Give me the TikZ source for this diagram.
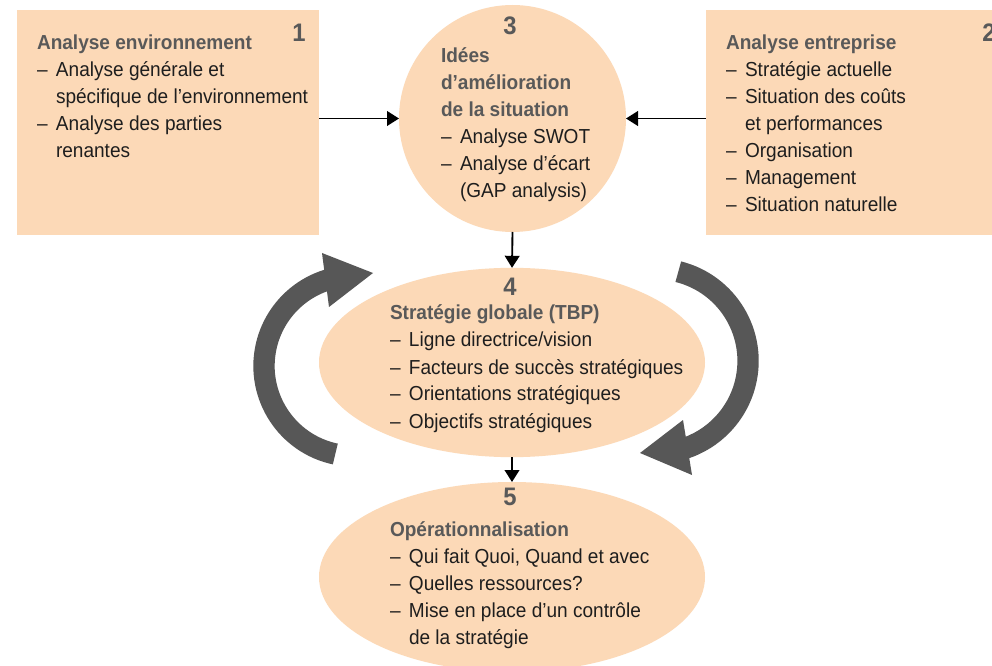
\documentclass[tikz,border=0pt]{standalone}
\usepackage{fontspec}
\setmainfont[FakeStretch=0.94]{Liberation Sans}
\usetikzlibrary{shapes.geometric,arrows.meta}
\definecolor{peach}{HTML}{FCD9B7}
\definecolor{titlegray}{HTML}{595959}
\definecolor{arcgray}{HTML}{575757}
\definecolor{ink}{HTML}{1E1E1E}
\newcommand\dsh{\makebox[14.25pt][l]{–}}
\newcommand\cnt{\hspace*{14.25pt}}
\newcommand\tblock[4]{%
  \foreach \myitem [count=\k from 0] in {#4}{%
    \node[txt] (#1-\k) at (#2,{-(#3)-27*\k}) {\myitem};}}
\begin{document}
\begin{tikzpicture}[x=0.75pt,y=0.75pt,
  shapebox/.style={fill=peach, draw=none, inner sep=0pt, outer sep=0pt},
  txt/.style={inner sep=0pt, outer sep=0pt, anchor=base west, text=ink,
    font=\fontsize{15.2}{20.25}\selectfont},
  ttl/.style={txt, text=titlegray, font=\fontsize{15.2}{20.25}\selectfont\bfseries},
  num/.style={inner sep=0pt, outer sep=0pt, anchor=base, text=titlegray,
    font=\fontsize{19}{20}\selectfont\bfseries},
  arr/.style={-{Triangle[length=9pt,width=11pt]}, line width=1.4pt, black},
  bigarc/.style={draw=arcgray, line width=16pt},
  bighead/.style={fill=arcgray, draw=none}]
\useasboundingbox (0,0) rectangle (992,-666);
\fill[white] (0,0) rectangle (992,-666);
% shapes
\node[shapebox, rectangle, minimum width=226.5pt, minimum height=168.75pt] (b1) at (168,-122.5) {};
\node[shapebox, rectangle, minimum width=221pt, minimum height=168.75pt] (b2) at (853,-122.5) {};
\node[shapebox, circle, minimum size=170.25pt] (c3) at (512.5,-118.5) {};
\node[shapebox, ellipse, minimum width=289.5pt, minimum height=142pt] (e4) at (512,-362.5) {};
\node[shapebox, ellipse, minimum width=289.5pt, minimum height=142.5pt] (e5) at (512,-577) {};
% connectors
\draw[arr] (b1.east |- c3.west) -- (c3.west);
\draw[arr] (b2.west |- c3.east) -- (c3.east);
\draw[arr] (c3.south) -- (e4.north);
\draw[arr] (e4.south) -- (e5.north);
% curved cycle arrows
\draw[bigarc] (335.3,-454) arc[start angle=258, end angle=106, radius=90];
\fill[bighead] (322,-253) -- (373,-273) -- (329,-307) -- cycle;
\draw[bigarc] (678.3,-271.7) arc[start angle=76, end angle=-73, radius=92];
\fill[bighead] (683,-420) -- (640,-453) -- (692,-475) -- cycle;
% numbers
\node[num] (n1) at (299,-42) {1};
\node[num] (n2) at (989,-42) {2};
\node[num] (n3) at (510,-35) {3};
\node[num] (n4) at (510,-296) {4};
\node[num] (n5) at (510,-505) {5};
% box 1
\node[ttl] (b1t) at (37,-50) {Analyse environnement};
\tblock{b1l}{37}{77}{{\dsh Analyse générale et},{\cnt spécifique de l’environnement},{\dsh Analyse des parties},{\cnt renantes}}
% box 2
\node[ttl] (b2t) at (726,-50) {Analyse entreprise};
\tblock{b2l}{726}{77}{{\dsh Stratégie actuelle},{\dsh Situation des coûts},{\cnt et performances},{\dsh Organisation},{\dsh Management},{\dsh Situation naturelle}}
% circle 3
\node[ttl] (c3a) at (441,-63) {Idées};
\node[ttl] (c3b) at (441,-90) {d’amélioration};
\node[ttl] (c3c) at (441,-117) {de la situation};
\tblock{c3l}{441}{144}{{\dsh Analyse SWOT},{\dsh Analyse d’écart},{\cnt (GAP analysis)}}
% ellipse 4
\node[ttl] (e4t) at (390,-320) {Stratégie globale (TBP)};
\tblock{e4l}{390}{347}{{\dsh Ligne directrice/vision},{\dsh Facteurs de succès stratégiques},{\dsh Orientations stratégiques},{\dsh Objectifs stratégiques}}
% ellipse 5
\node[ttl] (e5t) at (390,-536) {Opérationnalisation};
\tblock{e5l}{390}{563}{{\dsh Qui fait Quoi, Quand et avec},{\dsh Quelles ressources?},{\dsh Mise en place d’un contrôle},{\cnt de la stratégie}}
\end{tikzpicture}
\end{document}
